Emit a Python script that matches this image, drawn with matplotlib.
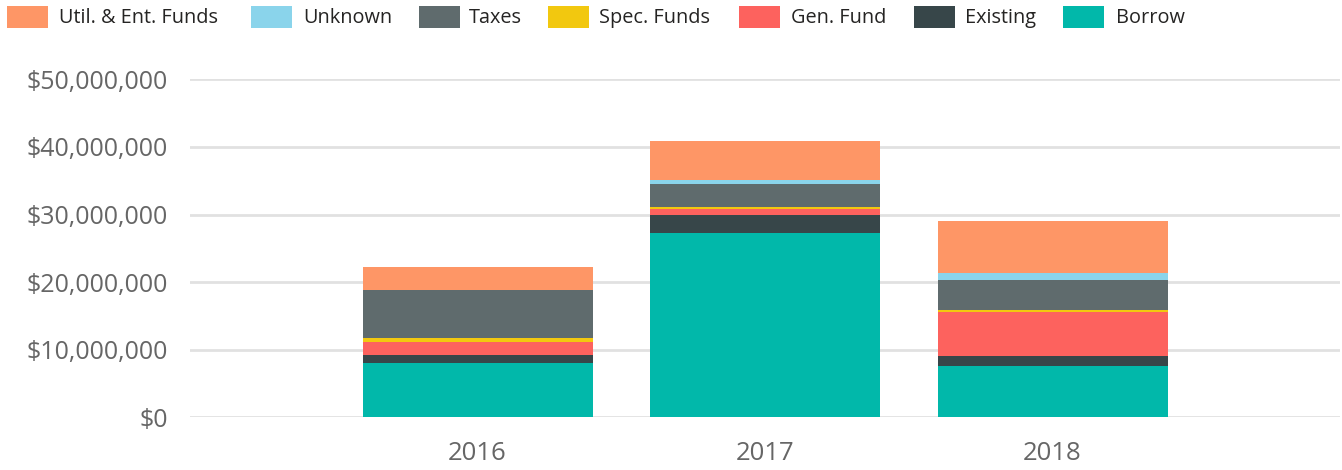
import matplotlib
matplotlib.use("Agg")
import matplotlib.pyplot as plt
from matplotlib.patches import Rectangle
from matplotlib.ticker import FuncFormatter

plt.rcParams['font.family'] = ['Open Sans', 'DejaVu Sans']

# Datos (millones de dólares)
years = ['2016', '2017', '2018']
borrow = [8.08, 27.31, 7.63]
existing = [1.18, 2.57, 1.39]
gen_fund = [1.92, 0.98, 6.56]
spec_funds = [0.55, 0.29, 0.29]
taxes = [7.06, 3.32, 4.49]
unknown = [0.0, 0.68, 0.99]
util_ent = [3.40, 5.72, 7.69]

series = [
    ('Borrow', borrow, '#01B8AA'),
    ('Existing', existing, '#374649'),
    ('Gen. Fund', gen_fund, '#FD625E'),
    ('Spec. Funds', spec_funds, '#F2C80F'),
    ('Taxes', taxes, '#5F6B6D'),
    ('Unknown', unknown, '#8AD4EB'),
    ('Util. & Ent. Funds', util_ent, '#FE9666'),
]

W, H = 1342, 470
fig = plt.figure(figsize=(W / 100, H / 100), dpi=100)
ax = fig.add_axes([190 / W, (H - 417.3) / H, 1150 / W, 338 / H])

x = range(len(years))
bottom = [0.0] * len(years)
for nombre, vals, color in series:
    vals_abs = [v * 1e6 for v in vals]
    ax.bar(x, vals_abs, width=0.8, bottom=bottom, color=color, linewidth=0, zorder=3)
    bottom = [b + v for b, v in zip(bottom, vals_abs)]

ax.set_xlim(-1, 3)
ax.set_ylim(0, 50e6)
ax.set_yticks([0, 10e6, 20e6, 30e6, 40e6, 50e6])
ax.yaxis.set_major_formatter(FuncFormatter(lambda v, p: '${:,.0f}'.format(v)))
ax.set_xticks(list(x))
ax.set_xticklabels(years)
ax.grid(axis='y', color='#E1E1E1', linewidth=2, zorder=0)
ax.tick_params(axis='y', length=0, pad=16, labelsize=18, labelcolor='#666666')
ax.tick_params(axis='x', length=0, pad=17, labelsize=18.5, labelcolor='#666666')
for s in ax.spines.values():
    s.set_visible(False)
ax.set_axisbelow(True)

# Leyenda manual en la parte superior
leyenda = [
    ('Util. & Ent. Funds', '#FE9666', 7, 59),
    ('Unknown', '#8AD4EB', 251, 303),
    ('Taxes', '#5F6B6D', 419, 469),
    ('Spec. Funds', '#F2C80F', 548, 599),
    ('Gen. Fund', '#FD625E', 739, 791),
    ('Existing', '#374649', 914, 965),
    ('Borrow', '#01B8AA', 1063, 1116),
]
for texto, color, xs, xt in leyenda:
    fig.add_artist(Rectangle((xs / W, (H - 28) / H), 41 / W, 22 / H,
                             transform=fig.transFigure, facecolor=color,
                             edgecolor='none'))
    fig.text(xt / W, (H - 18) / H, texto, fontsize=14.3, color='#252423',
             ha='left', va='center')

fig.savefig('out.png', dpi=100)
